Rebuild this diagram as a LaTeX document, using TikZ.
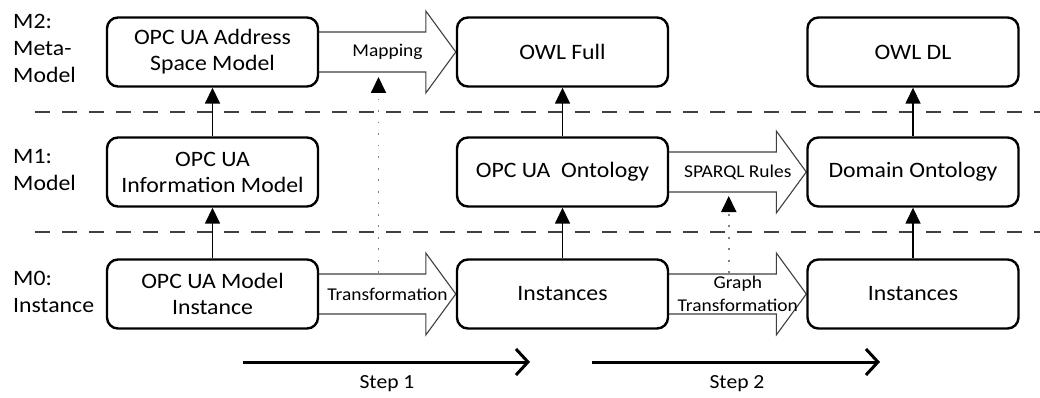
\documentclass[tikz,border=0pt]{standalone}
\usepackage{fontspec}
\setmainfont{Carlito}[FakeStretch=1.08]
\usetikzlibrary{arrows.meta,calc,backgrounds}

\begin{document}
\begin{tikzpicture}[x=1pt,y=-1pt,
  box/.style={draw=black, line width=2.4pt, rounded corners=11pt, fill=white,
    minimum width=211pt, minimum height=69pt, align=center, inner sep=0pt,
    font=\fontsize{22}{26}\selectfont},
  level/.style={anchor=west, align=left, inner sep=0pt,
    font=\fontsize{22}{27}\selectfont},
  blockarrow/.style={draw=black!75, line width=1.1pt, fill=white, line join=miter},
  arrowlabel/.style={inner sep=0pt, align=center, font=\fontsize{18}{23}\selectfont},
  uparrow/.style={draw=black, line width=1.6pt, -{Triangle[length=16pt,width=15pt]}},
  dotarrow/.style={draw=black!50, line width=1.8pt, dash pattern=on 1.8pt off 9.7pt,
    -{Triangle[length=16pt,width=15pt,fill=black,color=black]}},
  separator/.style={draw=black!75, line width=1.8pt, dash pattern=on 15pt off 12pt},
  steparrow/.style={draw=black, line width=3pt, -{Straight Barb[length=12pt,width=26pt]}},
  steplabel/.style={inner sep=0pt, font=\fontsize{20}{24}\selectfont},
]
\useasboundingbox (0,0) rectangle (1040,398);

% level separators
\draw[separator] (35,112) -- (1040,112);
\draw[separator] (35,232) -- (1040,232);

% level names
\node[level] (lm2) at (13,48) {M2:\\Meta-\\Model};
\node[level] (lm1) at (13,170) {M1:\\Model};
\node[level] (lm0) at (13,292) {M0:\\Instance};

% OPC UA column
\node[box] (asm) at (212.5,52) {OPC UA Address\\Space Model};
\node[box] (inf) at (212.5,172) {OPC UA\\Information Model};
\node[box] (ins) at (212.5,294) {OPC UA Model\\Instance};

% generic ontology column
\node[box] (owlf) at (562.5,52) {OWL Full};
\node[box] (ont) at (562.5,172) {OPC UA\ \ Ontology};
\node[box] (ins1) at (562.5,294) {Instances};

% domain column
\node[box] (owldl) at (913,52) {OWL DL};
\node[box] (dom) at (913,172) {Domain Ontology};
\node[box] (ins2) at (913,294) {Instances};

% block arrows between the columns
\begin{pgfonlayer}{background}
\foreach \s/\t in {asm/owlf, ins/ins1, ont/dom, ins1/ins2}{
  \draw[blockarrow]
    ([yshift=20pt]\s.east) -- ([xshift=-30pt,yshift=20pt]\t.west)
    -- ([xshift=-30pt,yshift=41pt]\t.west) -- (\t.west)
    -- ([xshift=-30pt,yshift=-41pt]\t.west) -- ([xshift=-30pt,yshift=-20pt]\t.west)
    -- ([yshift=-20pt]\s.east);
}
\end{pgfonlayer}

\node[arrowlabel] (lmap) at ($(asm.east)!0.5!(owlf.west)$) {Mapping};
\node[arrowlabel] (ltr) at ($(ins.east)!0.5!(ins1.west)$) {Transformation};
\node[arrowlabel] (lsp) at ($(ont.east)!0.5!(dom.west)$) {SPARQL Rules};
\node[arrowlabel] (lgt) at ($(ins1.east)!0.5!(ins2.west)$) {Graph\\Transformation};

% instance-of relations
\draw[uparrow] (inf) -- (asm);
\draw[uparrow] (ins) -- (inf);
\draw[uparrow] (ont) -- (owlf);
\draw[uparrow] (ins1) -- (ont);
\draw[uparrow] (dom) -- (owldl);
\draw[uparrow] (ins2) -- (dom);

% dotted dependencies between the transformations
\coordinate (trtop) at ($($(ins.east)!0.5!(ins1.west)$)+(-9,-21)$);
\coordinate (mapbot) at ($($(asm.east)!0.5!(owlf.west)$)+(-9,25)$);
\coordinate (gttop) at ($($(ins1.east)!0.5!(ins2.west)$)+(-9,-21)$);
\coordinate (spbot) at ($($(ont.east)!0.5!(dom.west)$)+(-9,24)$);
\draw[dotarrow] (trtop) -- (mapbot);
\draw[dotarrow] (gttop) -- (spbot);

% steps
\coordinate (s1a) at (243,362);
\coordinate (s1b) at (530,362);
\coordinate (s2a) at (592,362);
\coordinate (s2b) at (880,362);
\draw[steparrow] (s1a) -- (s1b);
\draw[steparrow] (s2a) -- (s2b);
\node[steplabel] (st1) at (387,384) {Step 1};
\node[steplabel] (st2) at (737,384) {Step 2};
\end{tikzpicture}
\end{document}
